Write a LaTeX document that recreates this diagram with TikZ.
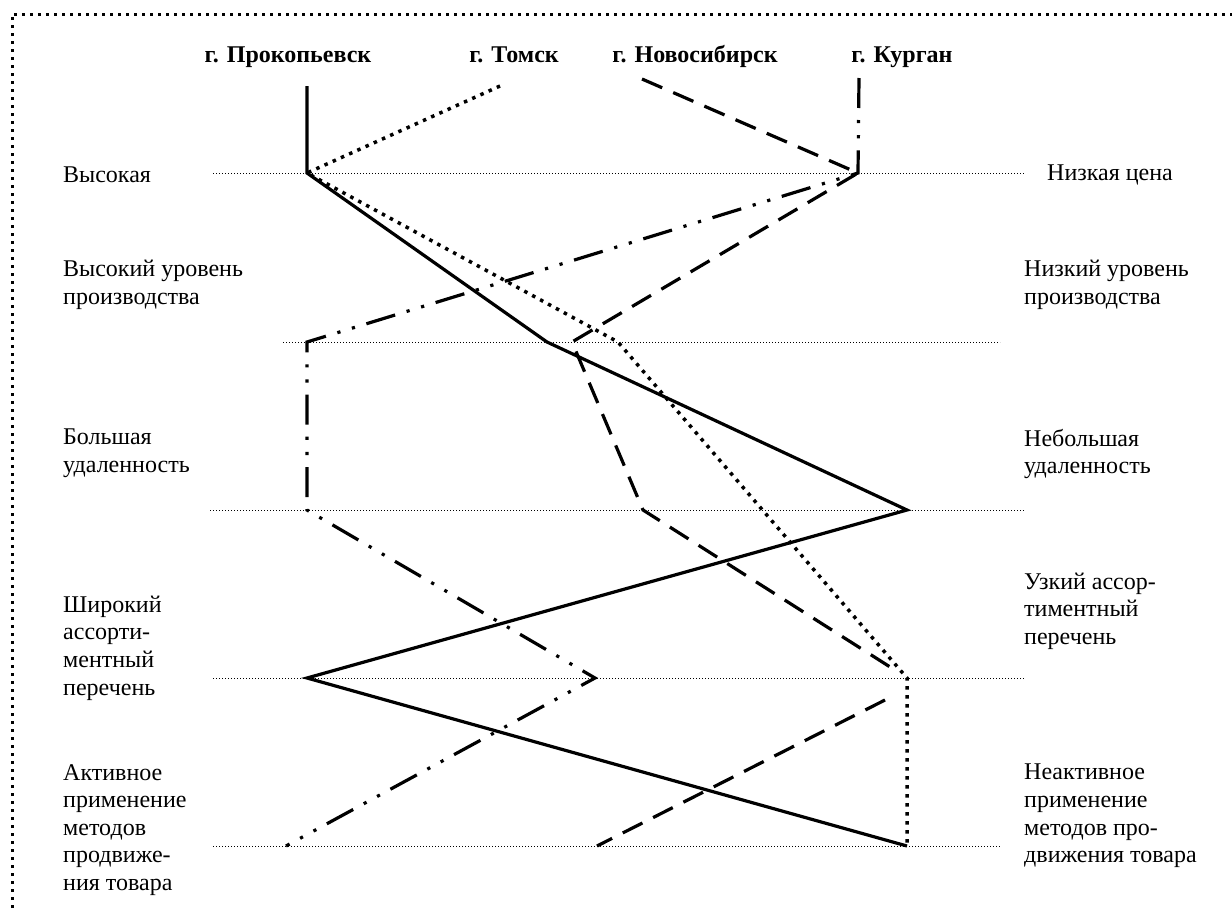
\documentclass[tikz,border=0pt]{standalone}
\usepackage{fontspec}
\setmainfont{Liberation Serif}
\usepackage{tikz}
\usetikzlibrary{positioning}

\begin{document}
\begin{tikzpicture}[x=1pt, y=-1pt,
    font=\fontsize{24}{27.6}\selectfont,
    gorod/.style={font=\fontsize{24}{27.6}\selectfont\bfseries, inner sep=0pt, anchor=base},
    priznak/.style={anchor=west, align=left, inner sep=0pt},
    uroven/.style={line width=0.9pt, dash pattern=on 1pt off 2pt},
    prokop/.style={line width=3.2pt},
    tomsk/.style={line width=3.5pt, dash pattern=on 3.5pt off 5.5pt},
    novosib/.style={line width=3.2pt, dash pattern=on 22pt off 12pt},
    kurgan/.style={line width=3.2pt, dash pattern=on 30pt off 12pt on 3.2pt off 12pt on 3.2pt off 12pt},
    ramka/.style={line width=3pt, dash pattern=on 3pt off 5pt}]
  \useasboundingbox (0,0) rectangle (1232,908);
  \draw[ramka] (12,908) -- (12,14) -- (1232,14);
  % города
  \node[gorod] (prokopevsk) at (288,62) {г. Прокопьевск};
  \node[gorod] (tomsk) at (514,62) {г. Томск};
  \node[gorod] (novosibirsk) at (695,62) {г. Новосибирск};
  \node[gorod] (kurgan) at (902,62) {г. Курган};
  % уровни
  \foreach \n/\y/\a/\b in {1/173/213/1025, 2/342/283/1000, 3/510/210/1025,
                           4/678/213/1025, 5/846/213/1000}
    {\coordinate (l\n) at (\a,\y); \coordinate (r\n) at (\b,\y);
     \draw[uroven] (l\n) -- (r\n);}
  % признаки
  \node[priznak] (vysokaya) at (63,175) {Высокая};
  \node[priznak] (vysurov) at (63,285) {Высокий уровень\\производства};
  \node[priznak] (bolshaya) at (63,453) {Большая\\удаленность};
  \node[priznak] (shirokij) at (63,648) {Широкий\\ассорти-\\ментный\\перечень};
  \node[priznak] (aktivnoe) at (63,830) {Активное\\применение\\методов\\продвиже-\\ния товара};
  \node[priznak] (nizkaya) at (1047,175) {Низкая цена};
  \node[priznak] (nizurov) at (1024,285) {Низкий уровень\\производства};
  \node[priznak] (nebolshaya) at (1024,454) {Небольшая\\удаленность};
  \node[priznak] (uzkij) at (1024,611) {Узкий ассор-\\тиментный\\перечень};
  \node[priznak] (neaktivnoe) at (1024,816) {Неактивное\\применение\\методов про-\\движения товара};
  % точки
  \coordinate (p0) at (307,86);  \coordinate (p1) at (307,173);
  \coordinate (p2) at (547,342); \coordinate (p3) at (907,510);
  \coordinate (p4) at (307,678); \coordinate (p5) at (907,846);
  \coordinate (t0) at (500,86);  \coordinate (t2) at (618,342);
  \coordinate (t3) at (907,678);
  \coordinate (n0) at (642,79);  \coordinate (n1) at (858,173);
  \coordinate (n2) at (572,342); \coordinate (n3) at (643,510);
  \coordinate (n4) at (898,672); \coordinate (n5) at (885,700);
  \coordinate (n6) at (597,846);
  \coordinate (k0) at (859,78);  \coordinate (k2) at (307,342);
  \coordinate (k3) at (307,510); \coordinate (k4) at (595,678);
  \coordinate (k5) at (286,846);
  % линии городов
  \draw[prokop] (p0) -- (p1) -- (p2) -- (p3) -- (p4) -- (p5);
  \draw[tomsk] (t0) -- (p1) -- (t2) -- (t3) -- (p5);
  \draw[novosib] (n0) -- (n1) -- (n2) -- (n3) -- (n4);
  \draw[novosib] (n5) -- (n6);
  \draw[kurgan] (k0) -- (n1) -- (k2) -- (k3) -- (k4) -- (k5);
\end{tikzpicture}
\end{document}
